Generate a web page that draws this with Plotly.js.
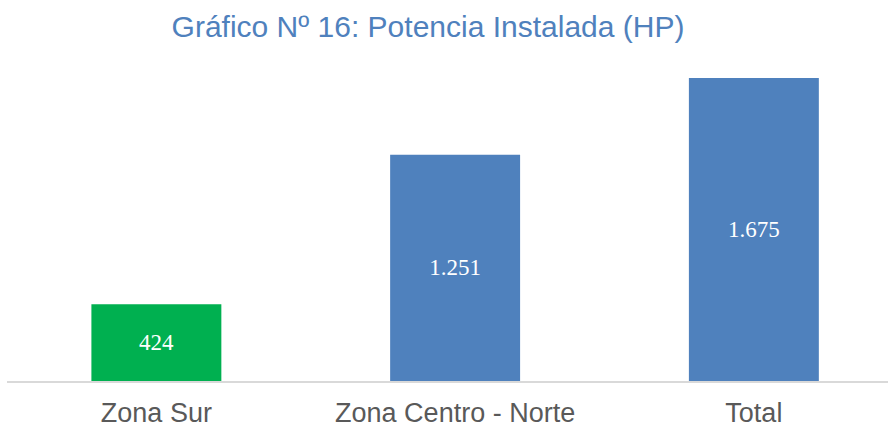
<!DOCTYPE html>
<html>
<head>
<meta charset="utf-8">
<script src="https://cdn.plot.ly/plotly-3.0.1.min.js"></script>
<style>
  html, body { margin: 0; padding: 0; background: #fff; }
  #chart { width: 888px; height: 425px; }
</style>
</head>
<body>
<div id="chart"></div>
<script>
// Potencia instalada por zona (HP)
const zonas = ["Zona Sur", "Zona Centro - Norte", "Total"];
const potencia = [424, 1251, 1675];
const colores = ["#00B050", "#4F81BD", "#4F81BD"];

const trace = {
  type: "bar",
  x: zonas,
  y: potencia,
  width: 0.435,
  marker: { color: colores },
  texttemplate: "%{y:,}",
  textposition: "inside",
  insidetextanchor: "middle",
  textfont: { family: "Liberation Serif, serif", size: 23, color: "#ffffff" },
  hoverinfo: "skip",
};

const layout = {
  width: 888, height: 425,
  margin: { l: 7, r: 0, t: 60, b: 44 },
  paper_bgcolor: "#ffffff",
  plot_bgcolor: "#ffffff",
  separators: ",.",
  showlegend: false,
  title: {
    text: "Gráfico Nº 16: Potencia Instalada (HP)",
    font: { family: "Liberation Sans, Arial, sans-serif", size: 30, color: "#4F81BD" },
    x: 0.482, xref: "container", xanchor: "center",
    y: 0.938, yref: "container", yanchor: "middle",
  },
  xaxis: {
    type: "category",
    range: [-0.5, 2.449],
    showline: true, linecolor: "#D9D9D9", linewidth: 2,
    showgrid: false, zeroline: false,
    ticks: "", ticklabelstandoff: 7,
    tickfont: { family: "Liberation Sans, Arial, sans-serif", size: 27, color: "#595959" },
  },
  yaxis: {
    range: [0, 1775],
    visible: false,
    showgrid: false, zeroline: false,
  },
};

Plotly.newPlot("chart", [trace], layout, { displayModeBar: false, staticPlot: true });
</script>
</body>
</html>
